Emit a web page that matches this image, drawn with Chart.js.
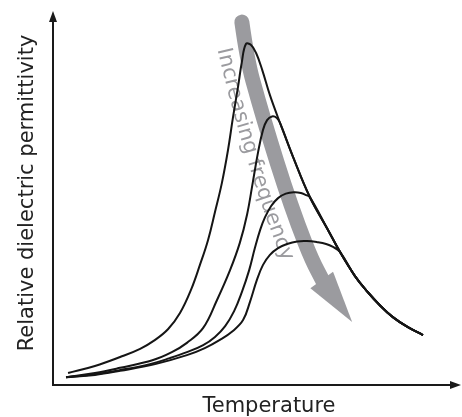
<!DOCTYPE html>
<html>
<head>
<meta charset="utf-8">
<script src="https://cdn.jsdelivr.net/npm/chart.js@4.4.1/dist/chart.umd.min.js"></script>
<style>
  html, body { margin: 0; padding: 0; background: #fff; }
  canvas { display: block; }
</style>
</head>
<body>
<canvas id="relaxorChart" width="462" height="417"></canvas>
<script>
// Schematic relaxor curves (arbitrary units 0-100)
const temp1 = [3.7, 10.3, 16.5, 21.4, 25.1, 28.3, 31.2, 33.9, 36.1, 38.1, 39.8, 41.5, 43.0, 44.2, 45.5, 46.4, 47.4,
               48.6, 49.9, 51.4, 53.3, 55.8, 59.0, 63.1, 67.3, 70.5, 74.2, 77.1, 80.3, 83.5, 87.2, 90.9];
const perm1 = [3.2, 5.1, 7.5, 9.7, 12.1, 15.0, 19.3, 25.5, 32.2, 38.9, 46.4, 54.2, 63.0, 71.6, 80.2, 86.6, 91.4,
               91.2, 89.0, 84.5, 77.7, 70.2, 61.1, 50.4, 42.1, 35.7, 29.2, 25.2, 21.4, 18.2, 15.5, 13.4];

const temp2 = [3.2, 10.3, 16.5, 24.6, 29.2, 32.9, 36.9, 40.3, 43.5, 45.9, 47.7, 49.1, 50.4, 51.6, 52.6, 53.8, 55.0,
               55.8, 59.0, 63.1, 67.3, 70.5, 74.2, 77.1, 80.3, 83.5, 87.2, 90.9];
const perm2 = [2.1, 3.2, 4.6, 6.7, 8.8, 11.3, 15.3, 22.8, 30.8, 38.1, 45.8, 54.4, 62.5, 68.4, 71.0, 72.0, 71.6,
               70.2, 61.1, 50.4, 42.1, 35.7, 29.2, 25.2, 21.4, 18.2, 15.5, 13.4];

const temp3 = [3.2, 10.3, 16.5, 23.8, 28.7, 32.9, 36.9, 39.8, 42.3, 44.5, 46.4, 48.2, 49.6, 50.9, 52.1, 53.6, 55.3,
               57.2, 59.2, 60.9, 62.2, 63.1, 67.3, 70.5, 74.2, 77.1, 80.3, 83.5, 87.2, 90.9];
const perm3 = [2.1, 2.9, 4.0, 5.6, 7.2, 8.8, 10.7, 12.9, 15.8, 19.8, 24.9, 30.8, 36.7, 41.6, 45.0, 48.0, 50.1,
               51.3, 51.7, 51.5, 50.9, 50.4, 42.1, 35.7, 29.2, 25.2, 21.4, 18.2, 15.5, 13.4];

const temp4 = [3.2, 10.3, 16.5, 25.1, 32.9, 37.3, 41.0, 44.2, 46.7, 48.4, 50.1, 51.6, 53.3, 55.3, 57.5, 60.0, 62.4,
               64.9, 67.1, 68.8, 70.5, 74.2, 77.1, 80.3, 83.5, 87.2, 90.9];
const perm4 = [2.1, 2.7, 3.8, 5.6, 8.0, 9.9, 12.1, 14.5, 17.4, 22.3, 28.2, 32.2, 34.9, 36.7, 37.8, 38.5, 38.6,
               38.3, 37.8, 37.0, 35.7, 29.2, 25.2, 21.4, 18.2, 15.5, 13.4];

// Grey "increasing frequency" arrow (last point = tip) and text path
const arrowT = [46.4, 47.7, 50.4, 53.3, 56.8, 60.2, 63.6, 66.6, 73.5];
const arrowE = [97.3, 87.1, 76.4, 65.7, 53.6, 42.9, 33.5, 27.3, 16.9];
const labelT = [41.5, 48.5, 58.0];
const labelE = [91.4, 58.6, 32.7];

const xTitle = 'Temperature';
const yTitle = 'Relative dielectric permittivity';
const arrowText = 'Increasing frequency';

const toPoints = (xs, ys) => xs.map((x, i) => ({ x: x, y: ys[i] }));

function curve(xs, ys) {
    return {
        data: toPoints(xs, ys),
        borderColor: '#151515',
        borderWidth: 2,
        pointRadius: 0,
        fill: false,
        tension: 0.4
    };
}

const decorations = {
    id: 'decorations',
    beforeDatasetsDraw(chart) {
        const { ctx, scales: { x, y } } = chart;
        const pts = arrowT.map((t, i) => ({ x: x.getPixelForValue(t), y: y.getPixelForValue(arrowE[i]) }));
        const tip = pts[pts.length - 1];
        const shaft = pts.slice(0, -1);
        const base = shaft[shaft.length - 1];

        ctx.save();
        ctx.strokeStyle = '#9b9b9f';
        ctx.fillStyle = '#9b9b9f';
        ctx.lineWidth = 15;
        ctx.lineCap = 'round';
        ctx.lineJoin = 'round';
        ctx.beginPath();
        ctx.moveTo(shaft[0].x, shaft[0].y);
        for (let i = 1; i < shaft.length - 1; i++) {
            const mx = (shaft[i].x + shaft[i + 1].x) / 2;
            const my = (shaft[i].y + shaft[i + 1].y) / 2;
            ctx.quadraticCurveTo(shaft[i].x, shaft[i].y, mx, my);
        }
        ctx.lineTo(base.x, base.y);
        ctx.stroke();

        // arrowhead
        let dx = tip.x - base.x, dy = tip.y - base.y;
        const len = Math.hypot(dx, dy);
        dx /= len; dy /= len;
        const half = 14;
        ctx.beginPath();
        ctx.moveTo(tip.x, tip.y);
        ctx.lineTo(base.x - dy * half - dx * 4, base.y + dx * half - dy * 4);
        ctx.lineTo(base.x + dy * half - dx * 4, base.y - dx * half - dy * 4);
        ctx.closePath();
        ctx.fill();

        // text along a gentle curve
        const p0 = { x: x.getPixelForValue(labelT[0]), y: y.getPixelForValue(labelE[0]) };
        const c = { x: x.getPixelForValue(labelT[1]), y: y.getPixelForValue(labelE[1]) };
        const p2 = { x: x.getPixelForValue(labelT[2]), y: y.getPixelForValue(labelE[2]) };
        const samples = [];
        let total = 0;
        for (let i = 0; i <= 200; i++) {
            const t = i / 200, u = 1 - t;
            const px = u * u * p0.x + 2 * u * t * c.x + t * t * p2.x;
            const py = u * u * p0.y + 2 * u * t * c.y + t * t * p2.y;
            if (i > 0) total += Math.hypot(px - samples[i - 1].x, py - samples[i - 1].y);
            samples.push({ x: px, y: py, s: total });
        }
        ctx.font = '21px "DejaVu Sans"';
        ctx.textAlign = 'center';
        ctx.textBaseline = 'middle';
        const width = ctx.measureText(arrowText).width;
        let pos = (total - width) / 2;
        for (const ch of arrowText) {
            const w = ctx.measureText(ch).width;
            const target = pos + w / 2;
            let k = 1;
            while (k < samples.length - 1 && samples[k].s < target) k++;
            const a = samples[k - 1], b = samples[k];
            const f = (target - a.s) / Math.max(b.s - a.s, 1e-6);
            const px = a.x + (b.x - a.x) * f;
            const py = a.y + (b.y - a.y) * f;
            ctx.save();
            ctx.translate(px, py);
            ctx.rotate(Math.atan2(b.y - a.y, b.x - a.x));
            ctx.fillText(ch, 0, 0);
            ctx.restore();
            pos += w;
        }
        ctx.restore();
    },
    afterDraw(chart) {
        const { ctx, chartArea: area } = chart;
        ctx.save();
        ctx.strokeStyle = '#1a1a1a';
        ctx.fillStyle = '#1a1a1a';
        ctx.lineWidth = 2;
        ctx.beginPath();
        ctx.moveTo(area.left, area.top + 6);
        ctx.lineTo(area.left, area.bottom);
        ctx.lineTo(area.right - 6, area.bottom);
        ctx.stroke();
        // arrow heads
        ctx.beginPath();
        ctx.moveTo(area.left, area.top - 1);
        ctx.lineTo(area.left - 4, area.top + 10);
        ctx.lineTo(area.left + 4, area.top + 10);
        ctx.closePath();
        ctx.fill();
        ctx.beginPath();
        ctx.moveTo(area.right + 1, area.bottom);
        ctx.lineTo(area.right - 10, area.bottom - 4);
        ctx.lineTo(area.right - 10, area.bottom + 4);
        ctx.closePath();
        ctx.fill();

        // axis titles
        ctx.fillStyle = '#222';
        ctx.font = '21px "DejaVu Sans"';
        ctx.textAlign = 'center';
        ctx.textBaseline = 'alphabetic';
        ctx.fillText(xTitle, 269, 412);
        ctx.translate(33, 193);
        ctx.rotate(-Math.PI / 2);
        ctx.fillText(yTitle, 0, 0);
        ctx.restore();
    }
};

new Chart(document.getElementById('relaxorChart'), {
    type: 'line',
    data: {
        datasets: [
            curve(temp1, perm1),
            curve(temp2, perm2),
            curve(temp3, perm3),
            curve(temp4, perm4)
        ]
    },
    options: {
        responsive: false,
        animation: false,
        layout: { padding: { left: 53, top: 12, right: 2, bottom: 32 } },
        scales: {
            x: { type: 'linear', min: 0, max: 100, display: false },
            y: { type: 'linear', min: 0, max: 100, display: false }
        },
        plugins: {
            legend: { display: false },
            tooltip: { enabled: false }
        }
    },
    plugins: [decorations]
});
</script>
</body>
</html>
